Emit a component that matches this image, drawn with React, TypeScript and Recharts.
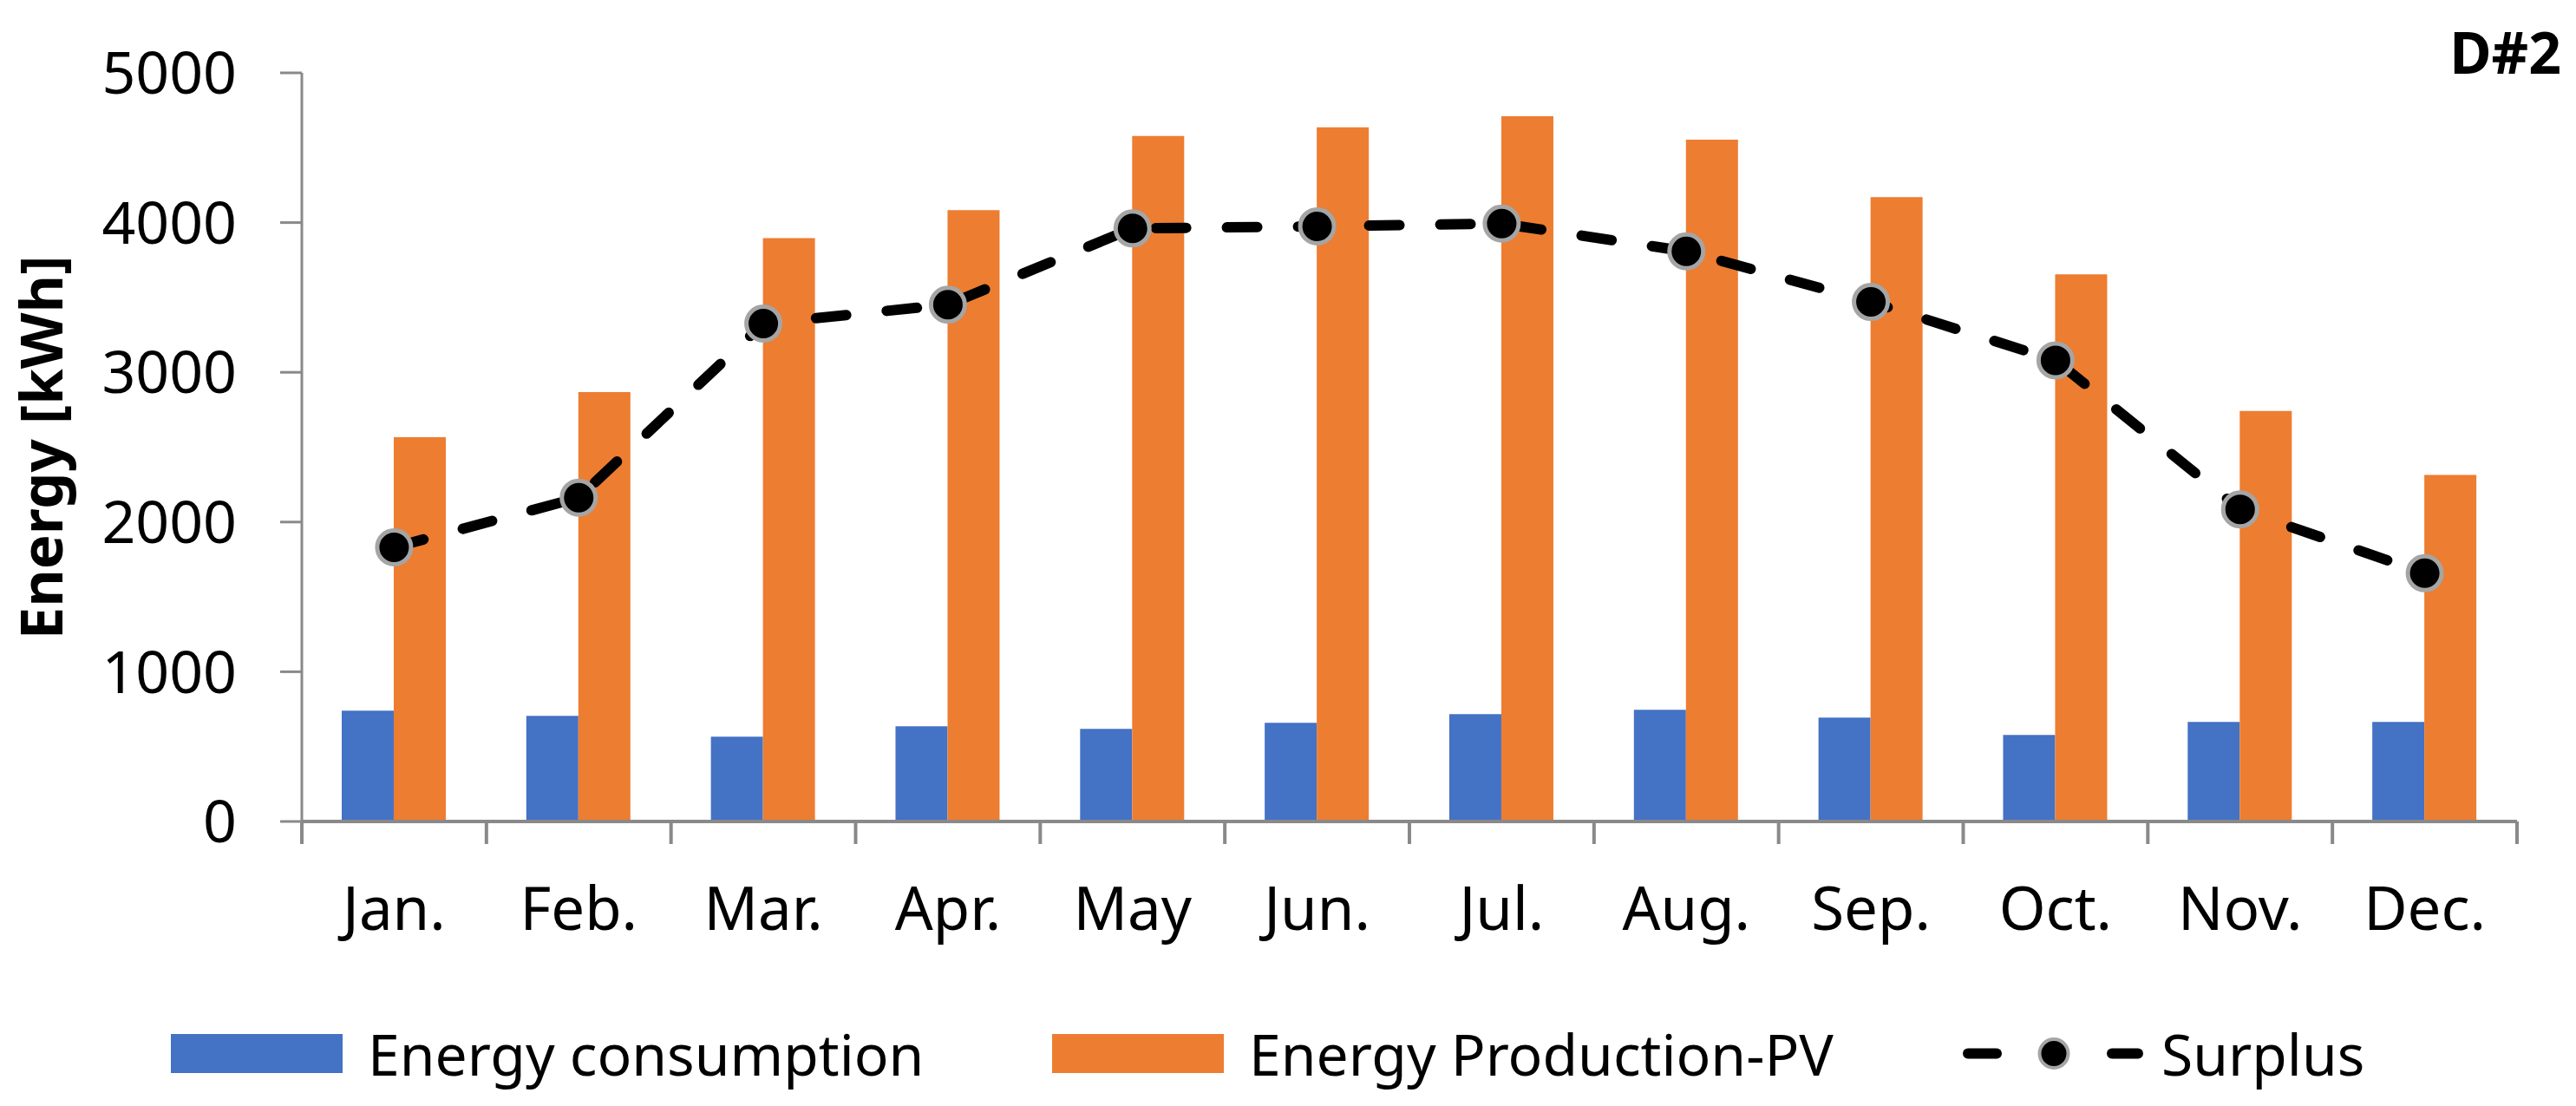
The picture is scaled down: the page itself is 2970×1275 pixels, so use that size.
import React from 'react';
import { ComposedChart, Bar, Line, XAxis, YAxis, Legend } from 'recharts';

const months = ['Jan.', 'Feb.', 'Mar.', 'Apr.', 'May', 'Jun.', 'Jul.', 'Aug.', 'Sep.', 'Oct.', 'Nov.', 'Dec.'];
const consumption = [740, 706, 566, 636, 619, 659, 717, 746, 694, 578, 665, 665];
const production = [2567, 2868, 3896, 4083, 4578, 4636, 4711, 4554, 4170, 3654, 2742, 2314];
const surplus = [1831, 2163, 3326, 3452, 3961, 3975, 3993, 3808, 3470, 3080, 2085, 1658];
const yTicks = [0, 1000, 2000, 3000, 4000, 5000];

const FONT = '"Noto Sans", sans-serif';
const AXIS = '#898989';
const BLUE = '#4472C4';
const ORANGE = '#ED7D31';
const MARKER_RING = '#A5A5A5';

const data = months.map((month, i) => ({
  month,
  consumption: consumption[i],
  production: production[i],
  surplus: surplus[i],
}));

// Excel style: tick marks sit between the categories, label in the middle
function MonthTick(props: any) {
  const { x, y, payload, index } = props;
  const half = payload.offset || 0;
  const axisY = y - 75;
  return (
    <g>
      <line x1={x - half} x2={x - half} y1={axisY} y2={axisY + 26} stroke={AXIS} strokeWidth={4} />
      {index === months.length - 1 && (
        <line x1={x + half} x2={x + half} y1={axisY} y2={axisY + 26} stroke={AXIS} strokeWidth={4} />
      )}
      <text x={x} y={axisY + 125} textAnchor="middle" fontSize={69} fontFamily={FONT} fill="#000">
        {payload.value}
      </text>
    </g>
  );
}

function SurplusDot(props: any) {
  const { cx, cy, index } = props;
  return <circle key={`dot-${index}`} cx={cx} cy={cy} r={19.5} fill="#000" stroke={MARKER_RING} strokeWidth={5} />;
}

// legend keeps the series order, not alphabetical
const legendOrder = ['consumption', 'production', 'surplus'];
const legendLeft = [197, 1213, 2263];

function renderLegend(props: any) {
  const { payload = [] } = props;
  const items = legendOrder.map((key) => payload.find((p: any) => p.dataKey === key)).filter(Boolean);
  return (
    <div style={{ position: 'relative', height: 100, width: '100%' }}>
      {items.map((entry: any, i: number) => (
        <div
          key={`legend-${i}`}
          style={{ position: 'absolute', left: legendLeft[i], top: 0, height: 100, display: 'flex', alignItems: 'center' }}
        >
          {entry.dataKey === 'surplus' ? (
            <svg width={208} height={45}>
              <line x1={6} x2={39} y1={22.5} y2={22.5} stroke="#000" strokeWidth={12} strokeLinecap="round" />
              <line x1={172} x2={202} y1={22.5} y2={22.5} stroke="#000" strokeWidth={12} strokeLinecap="round" />
              <circle cx={105} cy={22.5} r={16.5} fill="#000" stroke={MARKER_RING} strokeWidth={4} />
            </svg>
          ) : (
            <div style={{ width: 198, height: 45, background: entry.color }} />
          )}
          <span
            style={{
              marginLeft: entry.dataKey === 'surplus' ? 21 : 29,
              fontSize: 66,
              lineHeight: '66px',
              fontFamily: FONT,
              color: '#000',
              whiteSpace: 'nowrap',
            }}
          >
            {entry.value}
          </span>
        </div>
      ))}
    </div>
  );
}

function YLabel() {
  return (
    <text
      x={72}
      y={516}
      transform="rotate(-90, 72, 516)"
      textAnchor="middle"
      fontSize={67}
      fontWeight="bold"
      fontFamily={FONT}
      fill="#000"
    >
      Energy [kWh]
    </text>
  );
}

export default function App() {
  return (
    <div style={{ position: 'absolute', left: 0, top: 0, width: 2970, height: 1275, background: '#fff' }}>
      <ComposedChart
        width={2970}
        height={1275}
        data={data}
        margin={{ top: 84, right: 68, bottom: 11, left: 0 }}
        barCategoryGap="21.6%"
        barGap={0}
      >
        <XAxis
          dataKey="month"
          interval={0}
          height={217}
          tick={MonthTick}
          tickLine={false}
          tickSize={0}
          tickMargin={75}
          axisLine={{ stroke: AXIS, strokeWidth: 4 }}
        />
        <YAxis
          width={348}
          domain={[0, 5000]}
          ticks={yTicks}
          interval={0}
          tickSize={25}
          tickMargin={50}
          tick={{ fontSize: 68, fill: '#000', fontFamily: FONT }}
          tickLine={{ stroke: AXIS, strokeWidth: 3 }}
          axisLine={{ stroke: AXIS, strokeWidth: 3 }}
          label={{ content: () => <YLabel /> }}
        />
        <Bar dataKey="consumption" name="Energy consumption" fill={BLUE} isAnimationActive={false} />
        <Bar dataKey="production" name="Energy Production-PV" fill={ORANGE} isAnimationActive={false} />
        <Line
          type="linear"
          dataKey="surplus"
          name="Surplus"
          stroke="#000"
          strokeWidth={12}
          strokeDasharray="35 47"
          strokeLinecap="round"
          dot={SurplusDot}
          activeDot={false}
          isAnimationActive={false}
        />
        <Legend verticalAlign="bottom" content={renderLegend} />
        <text x={2953} y={85} textAnchor="end" fontSize={66} fontWeight="bold" fontFamily={FONT} fill="#000">
          D#2
        </text>
      </ComposedChart>
    </div>
  );
}
